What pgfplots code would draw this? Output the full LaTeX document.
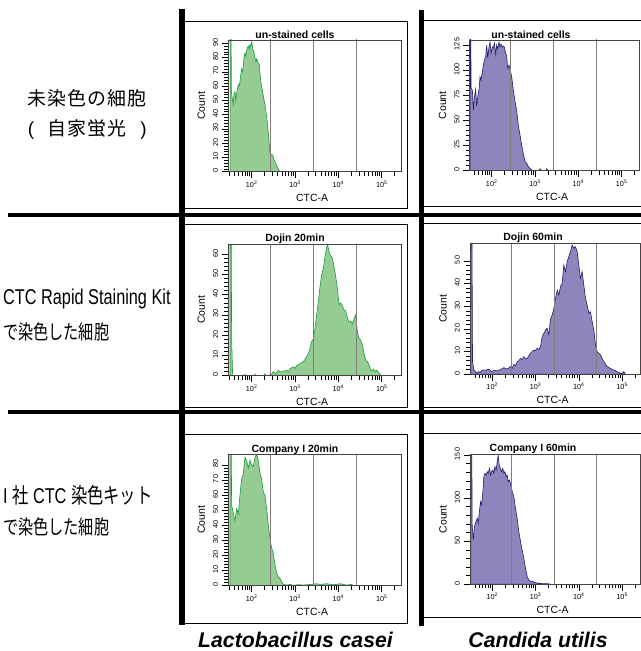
\documentclass[border=0pt]{standalone}
\usepackage{graphicx}
\usepackage{pgfplots}
\pgfplotsset{compat=1.18}
\usepackage{fontspec}
\setmainfont{Liberation Sans}
\newfontfamily\jp{Noto Sans CJK JP}
\newfontfamily\jpw{Noto Sans CJK JP}[LetterSpace=6]
\definecolor{gfill}{HTML}{94CC94}
\definecolor{gline}{HTML}{1E9A3C}
\definecolor{pfill}{HTML}{8D86BC}
\definecolor{pline}{HTML}{231E6E}
\definecolor{gate}{HTML}{85797A}
\definecolor{frm}{HTML}{4A4242}
\definecolor{thick}{HTML}{231F20}
\pgfplotsset{
  flow/.style={
    scale only axis, ymin=0,
    axis on top,
    xtick={2,3,4,5},
    xticklabels={10\textsuperscript{2},10\textsuperscript{3},10\textsuperscript{4},10\textsuperscript{5}},
    minor xtick={1.477,1.602,1.699,1.778,1.845,1.903,1.954,
      2.301,2.477,2.602,2.699,2.778,2.845,2.903,2.954,
      3.301,3.477,3.602,3.699,3.778,3.845,3.903,3.954,
      4.301,4.477,4.602,4.699,4.778,4.845,4.903,4.954,5.301},
    minor y tick num=4,
    tick align=outside, tick pos=left,
    major tick length=6.5bp, minor tick length=4bp,
    every tick/.style={black, line width=0.55bp},
    axis line style={frm, line width=0.7bp},
    ticklabel style={font=\fontsize{7.3}{8}\selectfont},
    xticklabel style={yshift=1bp},
    yticklabel style={rotate=90, anchor=south, xshift=1bp},
    /pgf/number format/assume math mode=true,
    xlabel={CTC-A}, ylabel={Count},
    label style={font=\fontsize{10.5}{12}\selectfont},
    xlabel style={at={([yshift=-26bp]axis description cs:0.485,0)}, anchor=center},
    ylabel style={at={([xshift=-27bp]axis description cs:0,0.5)}, anchor=center},
    clip=true,
  },
  lcol/.style={flow, width=172.7bp, xmin=1.462, xmax=5.445},
  rcol/.style={flow, width=170.3bp, xmin=1.488, xmax=5.42},
  gplot/.style={fill=gfill, draw=gline, line width=0.6bp},
  pplot/.style={fill=pfill, draw=pline, line width=0.6bp},
}
\newcommand{\gates}{%
  \draw[gate, line width=0.8bp] (axis cs:2.44,0) -- (axis cs:2.44,300);
  \draw[gate, line width=0.8bp] (axis cs:3.43,0) -- (axis cs:3.43,300);
  \draw[gate, line width=0.8bp] (axis cs:4.41,0) -- (axis cs:4.41,300);}
\begin{document}
\begin{tikzpicture}[x=1bp,y=1bp]
\path[use as bounding box, fill=white] (0,0) rectangle (641,651);

% ---------- panel 1: L. casei unstained
\begin{axis}[lcol, at={(228.3bp,611bp)}, anchor=north west, height=131.7bp,
  ymax=92.3, ytick={0,10,...,90}]
\addplot[gplot] coordinates {(1.505,0)(1.505,150)(1.525,150)(1.53,57)(1.55,52)(1.577,47)(1.595,55)(1.615,56)(1.635,50)(1.654,55)(1.672,58)(1.692,61)(1.71,60)(1.731,63)(1.75,68)(1.769,72)(1.79,70)(1.808,75)(1.825,80)(1.846,83)(1.865,81)(1.885,85)(1.905,87)(1.923,88)(1.94,86)(1.962,89)(1.98,88)(2.0,91)(2.01,90)(2.023,86)(2.04,85)(2.054,84)(2.075,80)(2.1,77)(2.115,79)(2.131,78)(2.155,76)(2.177,75)(2.19,70)(2.208,64)(2.23,60)(2.254,56)(2.28,51)(2.308,47)(2.325,43)(2.346,39)(2.365,33)(2.385,27)(2.405,20)(2.423,13)(2.45,12)(2.485,12)(2.51,9)(2.538,7)(2.565,5)(2.592,3.5)(2.62,1.5)(2.654,0)} \closedcycle;
\gates
\end{axis}

% ---------- panel 2: C. utilis unstained
\begin{axis}[rcol, at={(469.5bp,611bp)}, anchor=north west, height=130.7bp,
  ymax=130, ytick={0,25,...,125}]
\addplot[pplot] coordinates {(1.5,0)(1.5,200)(1.515,200)(1.523,82)(1.554,80)(1.577,60)(1.6,73)(1.631,81)(1.654,64)(1.677,73)(1.708,81)(1.731,93.5)(1.754,90)(1.785,98.5)(1.808,105)(1.831,110)(1.862,114)(1.885,125)(1.908,112)(1.938,123)(1.962,128)(1.985,117)(2.015,123)(2.038,122)(2.062,127)(2.092,116)(2.115,125)(2.138,121)(2.169,128)(2.192,123)(2.215,126)(2.246,123)(2.269,124)(2.292,123)(2.323,117)(2.346,114)(2.369,102)(2.4,105)(2.423,101)(2.462,93.5)(2.5,80)(2.538,69)(2.577,60)(2.615,45)(2.654,35.5)(2.692,25.5)(2.731,17)(2.769,9)(2.808,7.5)(2.846,4)(2.885,2.3)(2.923,0.7)(2.962,0)(3.1,0)(3.115,2)(3.154,0)(3.25,0)(3.269,2)(3.308,0)} \closedcycle;
\gates
\end{axis}

% ---------- panel 3: L. casei Dojin 20min
\begin{axis}[lcol, at={(228.3bp,406.7bp)}, anchor=north west, height=131.4bp,
  ymax=64.9, ytick={0,10,...,60}]
\addplot[gplot] coordinates {(1.5,0)(1.5,100)(1.525,100)(1.538,19)(1.562,0)(1.83,0)(1.846,0.8)(1.86,0)(2.06,0)(2.077,0.8)(2.09,0)(2.29,0)(2.308,1)(2.33,0)(2.45,0.5)(2.5,2)(2.55,1)(2.615,2.6)(2.67,1.8)(2.731,2.3)(2.808,2.6)(2.85,2)(2.885,3.3)(2.93,4)(2.962,4.3)(3.0,3.6)(3.038,5)(3.08,5.5)(3.115,6)(3.15,6.5)(3.192,7)(3.23,8)(3.269,9.4)(3.31,11)(3.346,13.5)(3.385,17)(3.423,18)(3.462,23.4)(3.5,30)(3.538,36.6)(3.577,44)(3.615,49.8)(3.654,53)(3.692,58.8)(3.731,63.8)(3.754,64.6)(3.785,61)(3.823,59.3)(3.862,58)(3.9,53.9)(3.938,49)(3.977,43.2)(4.015,35)(4.054,36)(4.092,34.6)(4.131,32.5)(4.169,32)(4.208,28.5)(4.246,26.4)(4.285,27)(4.323,25.5)(4.362,28)(4.4,30)(4.438,21.7)(4.477,18.4)(4.515,17.6)(4.554,15)(4.592,10.9)(4.631,7.7)(4.669,7)(4.708,5.3)(4.746,2.8)(4.78,2.5)(4.808,3.3)(4.85,2)(4.885,2.8)(4.93,1.5)(4.962,0.7)(5.0,0)} \closedcycle;
\gates
\end{axis}

% ---------- panel 4: C. utilis Dojin 60min
\begin{axis}[rcol, at={(470bp,407.7bp)}, anchor=north west, height=131bp,
  ymax=57.8, ytick={0,10,...,50}]
\addplot[pplot] coordinates {(1.505,0)(1.505,100)(1.525,100)(1.546,5.6)(1.577,1.9)(1.615,1.2)(1.65,0.5)(1.692,1.2)(1.73,0.8)(1.769,1.9)(1.846,1.8)(1.923,2.3)(1.96,1.5)(2.0,1.2)(2.038,1.8)(2.115,1.5)(2.192,2.1)(2.269,2.9)(2.346,2.3)(2.423,3.4)(2.46,2.6)(2.5,4.4)(2.54,3.8)(2.577,5.6)(2.615,6)(2.654,7)(2.69,6.5)(2.731,7.8)(2.77,6.8)(2.808,7)(2.885,9.3)(2.962,10.7)(3.0,10.5)(3.038,11.5)(3.08,11)(3.115,12.2)(3.154,16.6)(3.192,18)(3.231,19.6)(3.269,20.3)(3.308,17.4)(3.346,24.3)(3.385,26.2)(3.423,29)(3.462,33.5)(3.5,37.2)(3.538,35)(3.577,38.7)(3.615,40.1)(3.654,48.2)(3.692,45.3)(3.731,49.7)(3.769,51.9)(3.808,54.1)(3.846,57)(3.885,55.6)(3.923,56.3)(3.962,54)(4.0,48.2)(4.038,42.3)(4.077,45.3)(4.115,39.4)(4.154,33.5)(4.192,30.6)(4.231,26.9)(4.269,27.6)(4.308,23.2)(4.346,19.6)(4.385,12.9)(4.423,10)(4.462,9.3)(4.5,8.5)(4.538,7)(4.577,5.6)(4.615,4.5)(4.654,3.4)(4.731,2.6)(4.808,1.9)(4.885,1.2)(4.962,0.5)(5.0,0.3)(5.038,1.2)(5.077,0)} \closedcycle;
\gates
\end{axis}

% ---------- panel 5: L. casei Company I 20min
\begin{axis}[lcol, at={(228.3bp,196.7bp)}, anchor=north west, height=131.4bp,
  ymax=87, ytick={0,10,...,80}]
\addplot[gplot] coordinates {(1.5,0)(1.5,150)(1.52,150)(1.538,53.5)(1.577,48)(1.615,43)(1.654,51)(1.692,47.5)(1.731,60)(1.769,70.7)(1.808,74)(1.846,85)(1.885,83)(1.923,78)(1.962,83)(2.0,80)(2.038,79)(2.077,85)(2.115,87)(2.154,83)(2.192,74.5)(2.231,70.7)(2.269,62)(2.308,59.7)(2.346,50.8)(2.385,40)(2.423,31.4)(2.462,24.8)(2.5,21.4)(2.538,13.7)(2.577,8.2)(2.615,6)(2.654,4.9)(2.692,2.7)(2.731,0.9)(2.808,0.4)(2.885,0.9)(2.962,0.2)(3.077,0.7)(3.192,0.4)(3.385,0.9)(3.5,1.3)(3.577,0.9)(3.731,1.3)(3.885,0.6)(4.038,1.3)(4.192,0.4)(4.308,0.9)(4.346,0)} \closedcycle;
\gates
\end{axis}

% ---------- panel 6: C. utilis Company I 60min
\begin{axis}[rcol, at={(470bp,196.7bp)}, anchor=north west, height=130bp,
  ymax=150.8, ytick={0,50,100,150}]
\addplot[pplot] coordinates {(1.505,0)(1.505,200)(1.525,200)(1.538,68.8)(1.562,51.4)(1.592,67)(1.623,72.7)(1.654,76.5)(1.677,70.7)(1.708,86)(1.731,95.9)(1.754,92)(1.785,107.5)(1.808,124.9)(1.831,128.7)(1.862,126.8)(1.885,130.7)(1.908,128.7)(1.938,134.5)(1.962,126.8)(1.985,130.7)(2.015,132.6)(2.038,128.7)(2.062,136.5)(2.092,132.6)(2.115,142)(2.138,150)(2.162,138.4)(2.192,134.5)(2.215,130.7)(2.246,134.5)(2.269,128.7)(2.292,130.7)(2.323,124.9)(2.346,126.8)(2.369,119)(2.4,121)(2.423,117)(2.462,107.5)(2.5,101.7)(2.538,88)(2.577,76.5)(2.615,61)(2.654,49.5)(2.692,39.8)(2.731,30)(2.769,18.6)(2.808,8.9)(2.846,5)(2.885,3)(2.923,3.8)(2.962,2.3)(3.038,1.5)(3.154,0.8)(3.269,0.8)(3.346,0)} \closedcycle;
\gates
\end{axis}

% ---------- panel titles
\begin{scope}[every node/.style={inner sep=0pt, font=\bfseries\fontsize{10.5}{12}\selectfont}]
\node[anchor=base] at (295,612.7) {un-stained cells};
\node[anchor=base] at (531,612.7) {un-stained cells};
\node[anchor=base] at (295,409.3) {Dojin 20min};
\node[anchor=base] at (533,410) {Dojin 60min};
\node[anchor=base] at (295,198.8) {Company I 20min};
\node[anchor=base] at (533,199.3) {Company I 60min};
\end{scope}

% ---------- panel boxes
\begin{scope}[line width=1bp, black]
\draw (184,629.3) -- (407.7,629.3) -- (407.7,442.7) -- (184,442.7);
\draw (184,426.7) -- (407.7,426.7) -- (407.7,243) -- (184,243);
\draw (184,216) -- (407.7,216) -- (407.7,27.7) -- (184,27.7);
\draw (424,630.3) -- (641,630.3);
\draw (424,444.3) -- (641,444.3);
\draw (424,427.7) -- (641,427.7);
\draw (424,243.5) -- (641,243.5);
\draw (424,217) -- (641,217);
\draw (424,33.3) -- (641,33.3);
\end{scope}

% ---------- thick separators
\fill[thick] (179.3,26) rectangle (184.7,642);
\fill[thick] (418.8,25) rectangle (424.2,641);
\fill[thick] (8,434.3) rectangle (641,438.3);
\fill[thick] (8,237) rectangle (641,241);

% ---------- row labels
\begin{scope}[every node/.style={inner sep=0pt}]
\node[anchor=base] at (87,545.7) {\jpw\fontsize{19}{22}\selectfont 未染色の細胞};
\node[anchor=base] at (31,515.5) {\fontsize{19}{22}\selectfont (};
\node[anchor=base] at (86.7,515.5) {\jpw\fontsize{19}{22}\selectfont 自家蛍光};
\node[anchor=base] at (143.5,515.5) {\fontsize{19}{22}\selectfont )};
\node[anchor=base west] at (3,346) {\scalebox{0.76}[1]{\fontsize{21.5}{24}\selectfont CTC Rapid Staining Kit}};
\node[anchor=base west] at (3,311) {\scalebox{0.76}[1]{\jp\fontsize{20}{24}\selectfont で染色した細胞}};
\node[anchor=base west] at (3,147.7) {\scalebox{0.76}[1]{\fontsize{21.5}{24}\selectfont I {\jp 社} CTC {\jp 染色キット}}};
\node[anchor=base west] at (3,116) {\scalebox{0.76}[1]{\jp\fontsize{20}{24}\selectfont で染色した細胞}};
\end{scope}

% ---------- column labels
\node[anchor=base, inner sep=0pt] at (295.5,3) {\bfseries\itshape\fontsize{21.3}{24}\selectfont Lactobacillus casei};
\node[anchor=base, inner sep=0pt] at (538,3) {\bfseries\itshape\fontsize{21.3}{24}\selectfont Candida utilis};
\end{tikzpicture}
\end{document}
